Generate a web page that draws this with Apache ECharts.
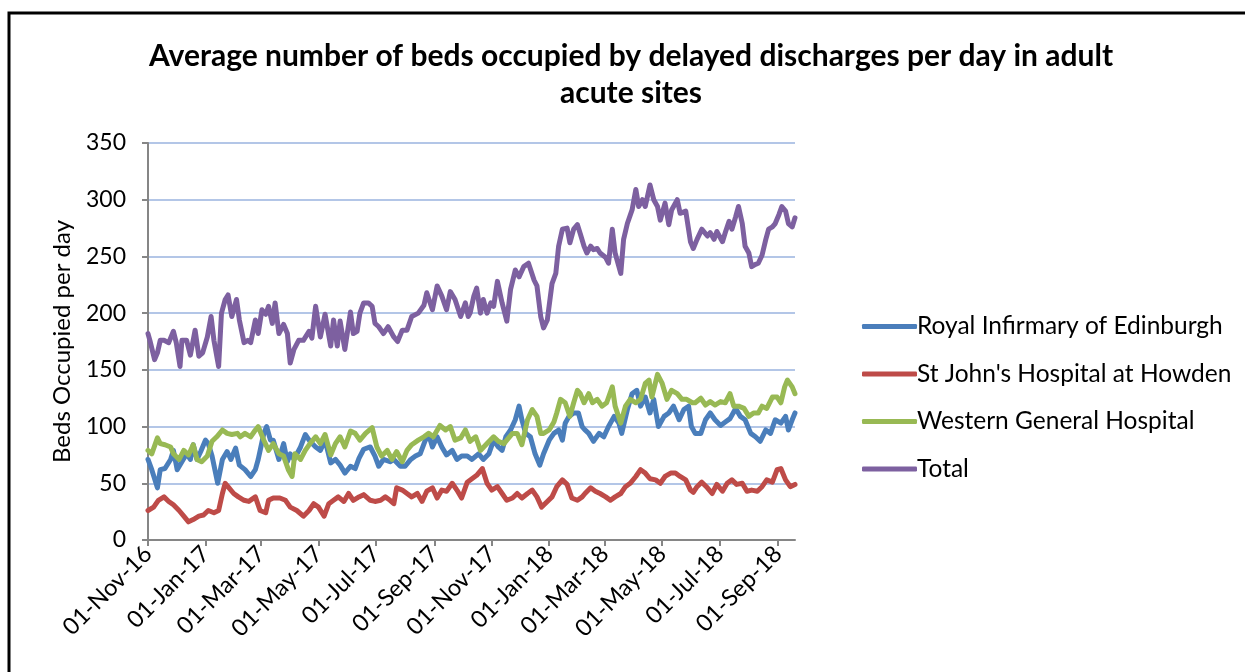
<!DOCTYPE html>
<html lang="en">
<head>
    <meta charset="UTF-8">
    <title>delayed discharges</title>
    <script src="https://cdn.jsdelivr.net/npm/echarts@6/dist/echarts.min.js"></script>
    <style>
        body { margin: 0; background: #fff; }
    </style>
</head>
<body>
<div id="chart" style="width: 1245px;height:672px;"></div>
<script>
    // days counted from 01-Nov-16
    let startDate = Date.UTC(2016, 10, 1)
    let dayCount = 688

    let seriesNames = ['Royal Infirmary of Edinburgh', "St John's Hospital at Howden", 'Western General Hospital', 'Total']

    let royalDays = [0, 4, 10, 13, 18, 24, 27, 31, 36, 41, 45, 48, 52, 56, 61, 64, 68, 74, 79, 84, 88, 93, 97, 103,
        109, 114, 117, 123, 126, 130, 133, 139, 144, 148, 151, 155, 162, 167, 172, 178, 183, 188, 194, 199, 204, 209, 215, 220,
        224, 229, 236, 241, 245, 250, 257, 261, 268, 273, 279, 284, 289, 294, 298, 302, 307, 312, 317, 323, 328, 333, 339, 344,
        351, 356, 362, 367, 372, 376, 380, 385, 390, 394, 397, 401, 406, 411, 416, 420, 426, 431, 436, 440, 443, 447, 452, 457, 461,
        464, 468, 473, 479, 484, 489, 495, 500, 503, 509, 514, 519, 523, 528, 533, 537, 542, 548, 553, 558, 564, 569, 574, 577,
        581, 587, 592, 597, 602, 608, 613, 618, 624, 629, 634, 640, 645, 650, 656, 661, 666, 672, 677, 680, 684, 687]
    let royalBeds = [71, 62, 46, 62, 63, 71, 79, 62, 69, 76, 71, 84, 71, 78, 88, 85, 74, 50, 71, 78, 71, 81, 66, 62,
        56, 62, 71, 94, 100, 88, 88, 71, 85, 69, 76, 71, 82, 93, 87, 82, 79, 88, 68, 71, 66, 59, 65, 63,
        72, 80, 82, 74, 65, 71, 69, 71, 65, 65, 71, 74, 76, 87, 93, 82, 91, 82, 75, 79, 71, 74, 74, 71,
        76, 71, 76, 88, 82, 79, 91, 97, 106, 118, 106, 94, 91, 76, 66, 76, 88, 94, 97, 88, 103, 109, 112, 112, 100,
        97, 94, 87, 94, 91, 100, 109, 103, 94, 115, 129, 132, 118, 126, 112, 124, 100, 109, 112, 118, 106, 115, 118, 100,
        94, 94, 106, 112, 106, 101, 104, 107, 116, 109, 106, 94, 91, 87, 97, 94, 106, 103, 109, 97, 106, 112]

    let stJohnsDays = [0, 6, 11, 17, 22, 27, 33, 38, 43, 48, 54, 59, 64, 70, 75, 79, 82, 86, 91, 96, 102, 107,
        109, 114, 119, 125, 128, 133, 140, 146, 151, 158, 165, 171, 176, 181, 187, 192, 197, 202, 208, 213, 218, 224,
        229, 236, 241, 247, 252, 257, 261, 264, 270, 275, 280, 286, 291, 296, 302, 307, 312, 317, 323, 328, 333, 339, 344, 349,
        355, 360, 365, 371, 376, 381, 387, 392, 397, 403, 408, 413, 418, 424, 429, 434, 440, 445, 450, 456, 461,
        464, 470, 475, 480, 486, 491, 496, 502, 507, 512, 518, 523, 528, 533, 539, 544, 549, 555, 560, 565, 571, 576,
        579, 583, 588, 594, 599, 604, 610, 615, 620, 625, 631, 636, 641, 647, 652, 657, 663, 668, 672, 677, 682, 687]
    let stJohnsBeds = [26, 29, 35, 38, 34, 31, 26, 21, 16, 18, 21, 22, 26, 24, 26, 41, 50, 46, 41, 38, 35, 34,
        35, 38, 26, 24, 35, 37, 37, 35, 29, 26, 21, 26, 32, 29, 21, 32, 35, 38, 34, 41, 35, 38,
        40, 35, 34, 35, 38, 35, 32, 46, 44, 41, 38, 41, 34, 43, 46, 37, 44, 43, 50, 44, 37, 51, 54, 57,
        63, 50, 44, 47, 41, 35, 37, 41, 37, 41, 44, 38, 29, 34, 38, 47, 53, 49, 37, 35, 38,
        41, 46, 43, 41, 38, 35, 38, 41, 47, 50, 56, 62, 59, 54, 53, 50, 56, 59, 59, 56, 53, 44,
        42, 47, 51, 46, 41, 49, 43, 50, 53, 49, 50, 43, 44, 43, 47, 53, 51, 62, 63, 53, 47, 49]

    let westernDays = [0, 4, 10, 13, 18, 24, 27, 33, 38, 43, 48, 52, 57, 63, 68, 73, 79, 84, 89, 95, 98, 103,
        109, 114, 117, 123, 128, 133, 139, 144, 149, 153, 156, 162, 167, 172, 178, 183, 188, 194, 199, 204, 209, 215, 220,
        225, 231, 238, 243, 248, 254, 259, 264, 270, 275, 280, 287, 293, 298, 303, 310, 316, 321, 326, 332, 337,
        342, 348, 353, 360, 367, 372, 378, 381, 387, 392, 397, 403, 408, 413, 417, 420, 426, 431, 434, 438, 443, 448, 452, 456,
        459, 463, 468, 472, 477, 482, 487, 493, 496, 502, 507, 512, 518, 523, 528, 532, 535, 541, 546, 551, 556, 562, 567, 572, 578,
        581, 587, 592, 597, 602, 608, 613, 618, 622, 627, 633, 638, 643, 648, 652, 657, 663, 668, 672, 676, 679, 684, 687]
    let westernBeds = [79, 76, 90, 85, 84, 82, 76, 71, 79, 75, 84, 71, 69, 74, 87, 91, 97, 94, 93, 94, 91, 94,
        91, 97, 100, 88, 79, 85, 76, 74, 62, 56, 76, 71, 79, 85, 91, 85, 93, 75, 85, 91, 82, 96, 94,
        88, 94, 99, 82, 74, 79, 71, 78, 69, 79, 84, 88, 91, 94, 91, 101, 97, 100, 88, 90, 97,
        87, 91, 79, 85, 91, 87, 85, 88, 94, 94, 84, 106, 115, 109, 94, 94, 97, 104, 112, 124, 121, 109, 121, 132,
        129, 121, 129, 121, 124, 118, 121, 135, 118, 103, 118, 124, 121, 124, 138, 141, 126, 146, 138, 124, 132, 129, 124, 124, 121,
        121, 125, 119, 122, 119, 122, 121, 129, 118, 118, 116, 109, 112, 112, 118, 116, 126, 126, 121, 135, 141, 135, 129]

    let totalDays = [0, 2, 7, 10, 13, 17, 22, 27, 30, 34, 36, 41, 45, 50, 54, 58, 63, 67, 70, 75, 78, 82, 85, 89, 94, 97, 102, 106,
        109, 114, 117, 121, 125, 128, 132, 135, 139, 144, 148, 151, 155, 160, 165, 171, 174, 178, 183, 188, 194, 197, 201, 204, 209, 215, 218, 222,
        225, 229, 234, 238, 241, 245, 250, 255, 261, 265, 270, 275, 280, 287, 293, 296, 302, 307, 312, 317, 321, 326, 332, 337, 340,
        342, 346, 349, 353, 356, 360, 364, 367, 371, 376, 381, 385, 390, 394, 399, 404, 410, 413, 417, 420, 424, 429, 433, 436, 440, 445, 448, 452, 456,
        459, 463, 466, 470, 473, 477, 480, 486, 489, 493, 496, 500, 502, 505, 509, 514, 518, 521, 525, 528, 533, 537, 541, 544, 549, 553, 556, 562, 565, 571, 576,
        579, 583, 588, 594, 597, 601, 604, 610, 613, 617, 620, 624, 627, 631, 634, 638, 641, 645, 648, 652, 656, 659, 663, 666, 670, 673, 677, 680, 684, 687]
    let totalBeds = [182, 176, 159, 165, 176, 176, 174, 184, 174, 153, 176, 176, 163, 185, 162, 165, 179, 197, 176, 153, 200, 212, 216, 197, 212, 194, 174, 176,
        174, 194, 182, 203, 199, 206, 191, 209, 182, 190, 182, 156, 168, 176, 176, 184, 178, 206, 179, 199, 171, 194, 171, 193, 168, 201, 182, 184,
        200, 209, 209, 206, 191, 188, 182, 188, 179, 175, 185, 185, 197, 200, 207, 218, 203, 224, 215, 203, 219, 212, 197, 209, 197,
        200, 215, 222, 200, 212, 200, 209, 206, 228, 209, 193, 221, 238, 232, 241, 244, 229, 224, 197, 187, 194, 226, 235, 259, 274, 275, 262, 274, 278,
        270, 259, 253, 259, 256, 257, 253, 249, 244, 274, 253, 241, 235, 265, 279, 291, 309, 294, 300, 294, 313, 300, 294, 282, 297, 278, 291, 300, 288, 290, 263,
        257, 265, 274, 268, 271, 265, 272, 263, 271, 281, 274, 285, 294, 279, 259, 253, 241, 243, 244, 251, 265, 274, 276, 279, 287, 294, 290, 279, 276, 284]

    let yTicks = {min: 0, max: 350, step: 50}
    let labelMonths = ['Jan', 'Mar', 'May', 'Jul', 'Sep', 'Nov']
    let monthNames = ['Jan', 'Feb', 'Mar', 'Apr', 'May', 'Jun', 'Jul', 'Aug', 'Sep', 'Oct', 'Nov', 'Dec']

    let categories = []
    for (let i = 0; i < dayCount; i++) {
        let d = new Date(startDate + i * 86400000)
        let dd = String(d.getUTCDate()).padStart(2, '0')
        let yy = String(d.getUTCFullYear()).slice(2)
        categories.push(dd + '-' + monthNames[d.getUTCMonth()] + '-' + yy)
    }

    function isLabelDay(value) {
        return value.slice(0, 2) === '01' && labelMonths.indexOf(value.slice(3, 6)) >= 0
    }

    // spread the read points over the daily axis, gaps are bridged
    function toDaily(days, beds) {
        let out = new Array(dayCount).fill(null)
        for (let i = 0; i < days.length; i++) {
            out[days[i]] = beds[i]
        }
        return out
    }

    let colors = ['#4A7EBB', '#BE4B48', '#98B954', '#7D60A0']
    let allDays = [royalDays, stJohnsDays, westernDays, totalDays]
    let allBeds = [royalBeds, stJohnsBeds, westernBeds, totalBeds]

    let font = 'Lato, "Open Sans", sans-serif'
    let chart = echarts.init(document.getElementById('chart'))

    let option = {
        animation: false,
        backgroundColor: '#fff',
        color: colors,
        title: {
            text: 'Average number of beds occupied by delayed discharges per day in adult\nacute sites',
            left: 626,
            textAlign: 'center',
            top: 33,
            textStyle: {
                fontFamily: font,
                fontWeight: 'bold',
                fontSize: 30,
                lineHeight: 37,
                color: '#000'
            }
        },
        legend: {
            orient: 'vertical',
            left: 857,
            top: 309,
            itemWidth: 55,
            itemHeight: 5,
            itemGap: 22.5,
            icon: 'roundRect',
            textStyle: {
                fontFamily: font,
                fontSize: 24.5,
                lineHeight: 21,
                color: '#000',
                padding: [0, 0, 0, -5]
            },
            data: seriesNames
        },
        grid: {
            left: 148,
            top: 143,
            right: 450,
            bottom: 132,
            containLabel: false
        },
        xAxis: {
            type: 'category',
            data: categories,
            boundaryGap: false,
            axisLine: {lineStyle: {color: '#868686', width: 2}},
            axisTick: {
                show: true,
                length: 6,
                interval: function (index, value) { return isLabelDay(value) },
                lineStyle: {color: '#868686', width: 2}
            },
            axisLabel: {
                interval: function (index, value) { return isLabelDay(value) },
                rotate: 45,
                margin: 10,
                fontFamily: font,
                fontSize: 23.5,
                color: '#000'
            },
            splitLine: {show: false}
        },
        yAxis: {
            type: 'value',
            min: yTicks.min,
            max: yTicks.max,
            interval: yTicks.step,
            name: 'Beds Occupied per day',
            nameLocation: 'middle',
            nameGap: 74,
            nameTextStyle: {fontFamily: font, fontSize: 24, color: '#000'},
            axisLine: {show: true, lineStyle: {color: '#868686', width: 2}},
            axisTick: {show: true, length: 6, lineStyle: {color: '#868686', width: 2}},
            axisLabel: {fontFamily: font, fontSize: 23, color: '#000', margin: 22},
            splitLine: {lineStyle: {color: '#B3C6E7', width: 2}}
        },
        graphic: [{
            type: 'rect',
            shape: {x: 9, y: 13, width: 1300, height: 700},
            style: {fill: null, stroke: '#000', lineWidth: 3},
            silent: true
        }],
        series: seriesNames.map(function (name, k) {
            return {
                name: name,
                type: 'line',
                data: toDaily(allDays[k], allBeds[k]),
                connectNulls: true,
                showSymbol: false,
                symbol: 'none',
                lineStyle: {width: 5, color: colors[k], cap: 'round', join: 'round'},
                itemStyle: {color: colors[k]},
                z: k === 3 ? 3 : 2
            }
        })
    }
    chart.setOption(option)
</script>
</body>
</html>
